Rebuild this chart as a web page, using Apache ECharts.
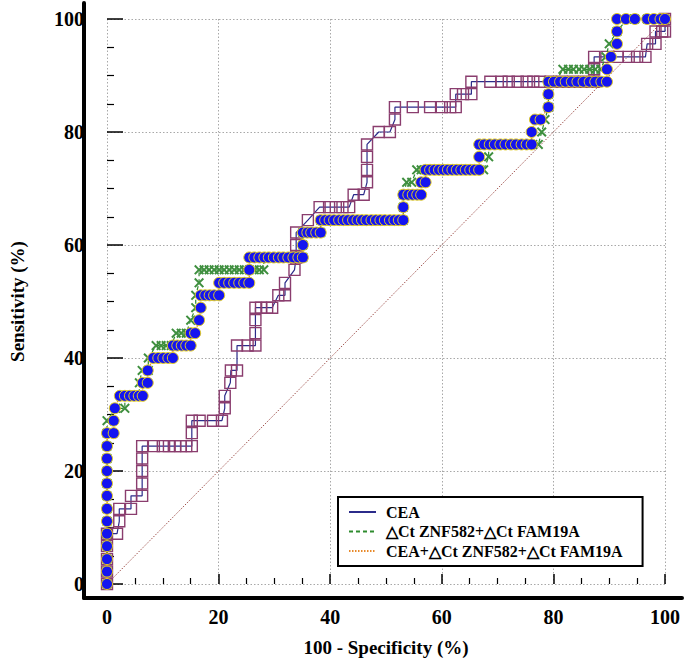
<!DOCTYPE html>
<html>
<head>
<meta charset="utf-8">
<script src="https://cdn.jsdelivr.net/npm/echarts/dist/echarts.min.js"></script>
<style>
html,body{margin:0;padding:0;background:#fff;}
#chart{width:685px;height:662px;}
</style>
</head>
<body>
<div id="chart"></div>
<script>
// ---- data (x = 100 - Specificity %, y = Sensitivity %) ----
var seriesNames = ['CEA', '\u25B3Ct ZNF582+\u25B3Ct FAM19A', 'CEA+\u25B3Ct ZNF582+\u25B3Ct FAM19A'];

var ceaPoints = [
[0,0],[0,2.2],[0,4.4],[0,6.7],[0,8.9],[1.8,8.9],[2.2,11.1],[2.2,13.3],[4.3,13.3],[4.3,15.6],[6.3,15.6],
[6.3,17.8],[6.3,20],[6.3,22.2],[6.3,24.4],[8.4,24.4],[10,24.4],[11.1,24.4],[12.2,24.4],[13.2,24.4],
[14.2,24.4],[15.2,24.4],[15.2,26.7],[15.2,28.9],[16.6,28.9],[19,28.9],[20.6,28.9],[21.1,31.1],[21.1,33.3],
[22.1,35.6],[22.2,37.8],[23.3,37.8],[23.3,42.2],[25.2,42.2],[26.6,42.2],[26.6,44.4],[26.6,46.7],[26.6,48.9],
[27.6,48.9],[28.7,48.9],[29.6,48.9],[30.7,51.1],[31.9,51.1],[31.9,53.3],[33.6,55.6],[33.9,57.8],[33.9,60],
[33.9,62.2],[36,64.4],[38.1,66.7],[39.8,66.7],[41,66.7],[42.2,66.7],[43.4,66.7],[44.2,68.9],[46,68.9],
[46.6,71.1],[46.6,73.3],[46.6,75.6],[46.6,77.8],[48.7,80],[50.7,80],[51.6,82.2],[51.6,84.4],[54.8,84.4],
[57.9,84.4],[60,84.4],[61.5,84.4],[62.5,84.4],[62.5,86.7],[63.8,86.7],[65.3,86.7],[65.3,88.9],[68.7,88.9],
[70.7,88.9],[72,88.9],[73.6,88.9],[75.2,88.9],[76.4,88.9],[77.6,88.9],[79.5,88.9],[81.5,88.9],[83.5,88.9],
[85.5,88.9],[87.3,88.9],[87.3,91.1],[87.3,93.3],[89.5,93.3],[91.5,93.3],[93.5,93.3],[95,93.3],[96.5,93.3],
[96.8,95.6],[98.3,95.6],[98.3,97.8],[99.5,97.8],[100,97.8],[100,100]
];

var znfPoints = [
[0,0],[0,2.2],[0,4.4],[0,6.7],[0,8.9],[0,11.1],[0,13.3],[0,15.6],[0,17.8],[0,20],[0,22.2],[0,24.4],
[0,26.7],[0,28.9],[1.6,31.1],[3.2,31.1],[3.2,33.3],[4.1,33.3],[5,33.3],[5.8,33.3],[5.8,35.6],[6.3,37.8],
[7.4,37.8],[7.4,40],[8.8,42.2],[9.7,42.2],[10.6,42.2],[11.5,42.2],[12.4,44.4],[13.3,44.4],[14.2,44.4],
[15,46.7],[15.9,48.9],[15.9,51.1],[16.5,53.3],[16.5,55.6],[17.4,55.6],[18.3,55.6],[19.2,55.6],[20.1,55.6],
[21,55.6],[21.9,55.6],[22.8,55.6],[23.7,55.6],[24.6,55.6],[25.5,55.6],[26.4,55.6],[27.3,55.6],[28.1,55.6],
[28.1,57.8],[29,57.8],[29.9,57.8],[30.8,57.8],[31.6,57.8],[32.5,57.8],[33.4,57.8],[34.3,57.8],[35.1,57.8],
[35.1,60],[35.1,62.2],[35.9,62.2],[36.6,62.2],[37.5,62.2],[38.3,62.2],[38.3,64.4],[39.1,64.4],[39.9,64.4],
[40.7,64.4],[41.6,64.4],[42.4,64.4],[43.2,64.4],[44.1,64.4],[44.9,64.4],[45.7,64.4],[46.5,64.4],[47.4,64.4],
[48.2,64.4],[49,64.4],[49.8,64.4],[50.7,64.4],[51.5,64.4],[52.3,64.4],[53.1,64.4],[53.1,66.7],[53.1,68.9],
[53.7,71.1],[54.6,71.1],[55.5,73.3],[56.3,73.3],[57.1,73.3],[57.9,73.3],[58.7,73.3],[59.5,73.3],[60.3,73.3],
[61.1,73.3],[61.9,73.3],[62.7,73.3],[63.5,73.3],[64.3,73.3],[65.1,73.3],[65.9,73.3],[66.7,73.3],[67.5,73.3],
[68.4,75.6],[68.4,77.8],[69.3,77.8],[70.3,77.8],[71.3,77.8],[72.3,77.8],[73.3,77.8],[74.3,77.8],[75.3,77.8],
[76.3,77.8],[77.3,77.8],[77.9,80],[78.5,82.2],[79.1,84.4],[79.1,86.7],[79.1,88.9],[80.4,88.9],[81.7,91.1],
[82.7,91.1],[83.6,91.1],[84.6,91.1],[85.5,91.1],[86.5,91.1],[87.5,91.1],[88.5,91.1],[89.4,93.3],[90,95.6],
[91.4,97.8],[93.2,100],[94.6,100],[96.8,100],[98,100],[99.2,100],[100,100]
];

var combPoints = [
[0,0],[0,2.2],[0,4.4],[0,6.7],[0,8.9],[0,11.1],[0,13.3],[0,15.6],[0,17.8],[0,20],[0,22.2],[0,24.4],
[0,26.7],[1.2,26.7],[1.2,28.9],[1.4,31.1],[2.3,33.3],[3.2,33.3],[4.1,33.3],[4.9,33.3],[5.7,33.3],[6.4,33.3],
[6.4,35.6],[7.3,35.6],[7.3,37.8],[8.3,40],[9.2,40],[10.1,40],[11,40],[11.8,40],[11.8,42.2],[12.6,42.2],
[13.4,42.2],[14.2,42.2],[15,42.2],[15,44.4],[15.8,44.4],[16.5,46.7],[16.8,48.9],[16.8,51.1],[17.6,51.1],
[18.4,51.1],[19.2,51.1],[20.1,51.1],[20.1,53.3],[21,53.3],[21.9,53.3],[22.8,53.3],[23.7,53.3],[24.6,53.3],
[25.5,53.3],[25.5,55.6],[25.5,57.8],[26.4,57.8],[27.3,57.8],[28.2,57.8],[29,57.8],[29.9,57.8],[30.8,57.8],
[31.6,57.8],[32.5,57.8],[33.4,57.8],[34.3,57.8],[35.1,57.8],[35.1,60],[35.1,62.2],[35.9,62.2],[36.6,62.2],
[37.5,62.2],[38.3,62.2],[38.3,64.4],[39.1,64.4],[39.9,64.4],[40.7,64.4],[41.6,64.4],[42.4,64.4],[43.2,64.4],
[44.1,64.4],[44.9,64.4],[45.7,64.4],[46.5,64.4],[47.4,64.4],[48.2,64.4],[49,64.4],[49.8,64.4],[50.7,64.4],
[51.5,64.4],[52.3,64.4],[53.1,64.4],[53.1,66.7],[53.1,68.9],[54,68.9],[54.8,68.9],[55.6,68.9],[56.3,68.9],
[56.3,71.1],[57.1,71.1],[57.1,73.3],[57.9,73.3],[58.7,73.3],[59.5,73.3],[60.3,73.3],[61.1,73.3],[61.9,73.3],
[62.7,73.3],[63.5,73.3],[64.3,73.3],[65.1,73.3],[65.9,73.3],[66.7,73.3],[66.7,75.6],[66.7,77.8],[67.6,77.8],
[68.6,77.8],[69.5,77.8],[70.5,77.8],[71.4,77.8],[72.4,77.8],[73.3,77.8],[74.3,77.8],[75.2,77.8],[76.1,77.8],
[76.1,80],[76.7,82.2],[77.7,82.2],[79.1,84.4],[79.1,86.7],[79.1,88.9],[80.1,88.9],[81.2,88.9],[82.2,88.9],
[83.3,88.9],[84.3,88.9],[85.4,88.9],[86.5,88.9],[87.5,88.9],[88.6,88.9],[89.6,88.9],[89.6,91.1],[90.3,93.3],
[91.4,95.6],[91.4,97.8],[91.4,100],[93,100],[94.6,100],[96.8,100],[98,100],[99.2,100],[100,100]
];

var diagPoints = [[0,0],[100,100]];

var axisMin = 0, axisMax = 100, axisStep = 20;

// ---- chart ----
var FONT = 'Liberation Serif, "Times New Roman", serif';
var chart = echarts.init(document.getElementById('chart'), null, {renderer: 'svg'});
var xMark = 'path://M0,1.4L1.4,0L5,3.6L8.6,0L10,1.4L6.4,5L10,8.6L8.6,10L5,6.4L1.4,10L0,8.6L3.6,5Z';

var gridLine = {show: true, lineStyle: {color: '#a8a8a8', type: [1.5, 2], width: 1}};

chart.setOption({
  animation: false,
  backgroundColor: '#fff',
  grid: [
    {left: 100, top: 19, width: 565, height: 565},
    {left: 84, top: 3, right: 3, bottom: 64}
  ],
  xAxis: [
    {
      type: 'value', gridIndex: 0, min: axisMin, max: axisMax, interval: axisStep,
      offset: 14,
      axisLine: {show: false},
      axisTick: {show: true, inside: true, length: 10, lineStyle: {color: '#000', width: 1.5}},
      minorTick: {show: true, splitNumber: 4, length: 6, lineStyle: {color: '#000', width: 1.2}},
      axisLabel: {margin: 9, color: '#000', fontFamily: FONT, fontWeight: 'bold', fontSize: 20},
      splitLine: gridLine,
      name: '100 - Specificity (%)', nameLocation: 'middle', nameGap: 40,
      nameTextStyle: {color: '#000', fontFamily: FONT, fontWeight: 'bold', fontSize: 19}
    },
    {
      type: 'value', gridIndex: 1, min: 0, max: 1,
      axisLine: {show: true, onZero: false, lineStyle: {color: '#000', width: 4}},
      axisTick: {show: false}, axisLabel: {show: false}, splitLine: {show: false}
    }
  ],
  yAxis: [
    {
      type: 'value', gridIndex: 0, min: axisMin, max: axisMax, interval: axisStep,
      offset: 16,
      axisLine: {show: false},
      axisTick: {show: true, inside: true, length: 16, lineStyle: {color: '#000', width: 1.5}},
      minorTick: {show: true, splitNumber: 4, length: 7, lineStyle: {color: '#000', width: 1.2}},
      axisLabel: {margin: 7, color: '#000', fontFamily: FONT, fontWeight: 'bold', fontSize: 20},
      splitLine: gridLine,
      name: 'Sensitivity (%)', nameLocation: 'middle', nameGap: 64,
      nameTextStyle: {color: '#000', fontFamily: FONT, fontWeight: 'bold', fontSize: 19}
    },
    {
      type: 'value', gridIndex: 1, min: 0, max: 1,
      axisLine: {show: true, onZero: false, lineStyle: {color: '#000', width: 4}},
      axisTick: {show: false}, axisLabel: {show: false}, splitLine: {show: false}
    }
  ],
  legend: {
    data: seriesNames,
    orient: 'vertical', left: 338, top: 497,
    padding: [7, 20, 7, 10], itemGap: 3.5,
    itemWidth: 27, itemHeight: 14,
    borderColor: '#000', borderWidth: 2, backgroundColor: '#fff',
    selectedMode: false,
    itemStyle: {opacity: 0},
    textStyle: {color: '#000', fontFamily: FONT, fontWeight: 'bold', fontSize: 16, padding: [0, 0, 0, 5]}
  },
  series: [
    {
      name: 'diagonal', type: 'line', data: diagPoints, showSymbol: false, symbol: 'none',
      lineStyle: {color: '#a0524d', width: 1, type: [1.5, 1.5]}, silent: true, clip: false, z: 1
    },
    {
      name: seriesNames[0], type: 'line', data: ceaPoints, clip: false,
      symbol: 'rect', symbolSize: 11,
      lineStyle: {color: '#2b2b8a', width: 1.2, type: 'solid'},
      itemStyle: {color: 'rgba(0,0,0,0)', borderColor: '#8a3d6e', borderWidth: 1.4},
      z: 2
    },
    {
      name: seriesNames[1], type: 'line', data: znfPoints, clip: false,
      symbol: xMark, symbolSize: 10,
      lineStyle: {color: '#2e8b2e', width: 1.2, type: [4, 3]},
      itemStyle: {color: '#3f8f3f'},
      z: 3
    },
    {
      name: seriesNames[2], type: 'line', data: combPoints, clip: false,
      symbol: 'circle', symbolSize: 11,
      lineStyle: {color: '#e8892a', width: 1.2, type: [1.5, 1.5]},
      itemStyle: {color: '#1414f0', borderColor: '#e6cf1c', borderWidth: 1},
      z: 4
    }
  ]
});
</script>
</body>
</html>
